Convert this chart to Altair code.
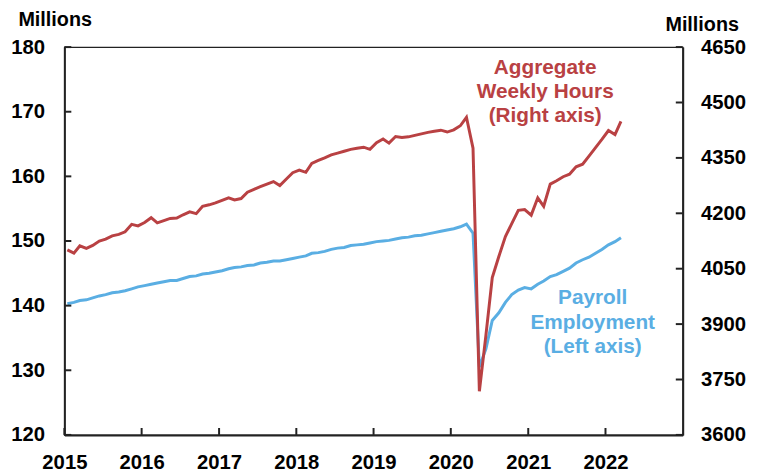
import altair as alt
import pandas as pd

# Monthly observations, Dec 2014 .. Feb 2022 (plotted mid-month)
start_month = "2014-12-15"
payroll = [140.3,
    140.5, 140.8, 140.9, 141.2, 141.5, 141.7, 142.0, 142.1, 142.3, 142.6, 142.9, 143.1,
    143.3, 143.5, 143.7, 143.9, 143.9, 144.2, 144.5, 144.6, 144.9, 145.0, 145.2, 145.4,
    145.7, 145.9, 146.0, 146.2, 146.3, 146.6, 146.7, 146.9, 146.9, 147.1, 147.3, 147.5,
    147.7, 148.1, 148.2, 148.4, 148.7, 148.9, 149.0, 149.3, 149.4, 149.5, 149.7, 149.9,
    150.0, 150.1, 150.3, 150.5, 150.6, 150.8, 150.9, 151.1, 151.3, 151.5, 151.7, 151.9,
    152.2, 152.6, 151.2, 130.5, 133.3, 137.7, 138.9, 140.5, 141.7, 142.4, 142.8, 142.6,
    143.3, 143.8, 144.5, 144.8, 145.3, 145.8, 146.6, 147.1, 147.5, 148.1, 148.7, 149.4,
    149.9, 150.5]
hours = [4101,
    4092, 4112, 4105, 4113, 4125, 4130, 4139, 4143, 4150, 4170, 4166, 4175,
    4188, 4174, 4180, 4186, 4187, 4196, 4204, 4199, 4219, 4223, 4228, 4235,
    4242, 4236, 4240, 4257, 4265, 4272, 4279, 4286, 4275, 4293, 4310, 4317,
    4311, 4335, 4343, 4350, 4358, 4363, 4368, 4373, 4376, 4379, 4373, 4391,
    4401, 4390, 4408, 4405, 4407, 4411, 4415, 4419, 4422, 4425, 4420, 4426,
    4437, 4460, 4376, 3718, 3870, 4026, 4083, 4137, 4172, 4208, 4210, 4195,
    4242, 4219, 4279, 4288, 4299, 4306, 4326, 4333, 4355, 4378, 4400, 4424,
    4413, 4449]

years = [2015, 2016, 2017, 2018, 2019, 2020, 2021, 2022]
left_ticks = [120, 130, 140, 150, 160, 170, 180]
right_ticks = [3600, 3750, 3900, 4050, 4200, 4350, 4500, 4650]

RED = "#b94143"
BLUE = "#5aaee3"
FONT = "Liberation Sans"
W, H = 625, 392
LFS = 20.5

dates = pd.date_range(start_month, periods=len(payroll), freq="MS") + pd.Timedelta(days=14)
df = pd.DataFrame({"date": dates.strftime("%Y-%m-%dT00:00:00"), "payroll": payroll, "hours": hours})

xscale = alt.Scale(domain=[alt.DateTime(year=2015, month=1, date=1), alt.DateTime(year=2023, month=1, date=1)])
lscale = alt.Scale(domain=[120, 180], nice=False, zero=False)
rscale = alt.Scale(domain=[3600, 4650], nice=False, zero=False)

xaxis = alt.Axis(values=[alt.DateTime(year=y, month=1, date=1) for y in years], format="%Y",
                 ticks=False, grid=False, labelPadding=18, domainWidth=2, domainColor="#222",
                 labelFontSize=LFS, labelFont=FONT, labelFontWeight="bold", labelColor="black",
                 labelFlush=False, title=None)

base = alt.Chart(df)

blue = base.mark_line(color=BLUE, strokeWidth=3, clip=True).encode(
    x=alt.X("date:T", scale=xscale, axis=xaxis),
    y=alt.Y("payroll:Q", scale=lscale, axis=alt.Axis(
        orient="left", values=left_ticks, format="d", ticks=False, grid=False, labelPadding=20,
        domainWidth=2, domainColor="#222", labelFontSize=LFS, labelFont=FONT,
        labelFontWeight="bold", labelColor="black", title="Millions", titleAngle=0,
        titleAlign="left", titleBaseline="alphabetic", titleX=-47, titleY=-22,
        titleFontSize=20, titleFont=FONT, titleFontWeight="bold", titleColor="black")),
)

red = base.mark_line(color=RED, strokeWidth=3, clip=True).encode(
    x=alt.X("date:T", scale=xscale),
    y=alt.Y("hours:Q", scale=rscale, axis=alt.Axis(
        orient="right", values=right_ticks, format="d", ticks=False, grid=False, labelPadding=18,
        domainWidth=2, domainColor="#222", labelFontSize=LFS, labelFont=FONT,
        labelFontWeight="bold", labelColor="black", title="Millions", titleAngle=0,
        titleAlign="left", titleBaseline="alphabetic", titleX=-18, titleY=-17,
        titleFontSize=20, titleFont=FONT, titleFontWeight="bold", titleColor="black")),
)

tick_style = dict(color="#222", strokeWidth=2)

xticks = alt.Chart(pd.DataFrame({"yr": [f"{y}-01-01T00:00:00" for y in years]})).mark_rule(**tick_style).encode(
    x=alt.X("yr:T", scale=xscale), y=alt.value(H), y2=alt.value(H - 7))

lticks = alt.Chart(pd.DataFrame({"v": left_ticks})).mark_rule(**tick_style).encode(
    y=alt.Y("v:Q", scale=lscale, axis=None), x=alt.value(0), x2=alt.value(7))

rticks = alt.Chart(pd.DataFrame({"v": right_ticks})).mark_rule(**tick_style).encode(
    y=alt.Y("v:Q", scale=rscale, axis=None), x=alt.value(W), x2=alt.value(W - 7))

red_label = alt.Chart(pd.DataFrame({"t": [["Aggregate", "Weekly Hours", "(Right axis)"]]})).mark_text(
    color=RED, fontSize=21, font=FONT, fontWeight="bold", align="center", baseline="alphabetic",
    lineHeight=24.5).encode(text="t", x=alt.value(551 - 65), y=alt.value(72 - 45))

blue_label = alt.Chart(pd.DataFrame({"t": [["Payroll", "Employment", "(Left axis)"]]})).mark_text(
    color=BLUE, fontSize=21, font=FONT, fontWeight="bold", align="center", baseline="alphabetic",
    lineHeight=24.5).encode(text="t", x=alt.value(599 - 65), y=alt.value(305 - 45))

chart = alt.layer(blue, red, xticks, lticks, rticks, red_label, blue_label).resolve_scale(
    y="independent"
).properties(
    width=W, height=H,
    autosize=alt.AutoSizeParams(type="none"),
    padding={"left": 57, "top": 37, "right": 68, "bottom": 37},
).configure_view(stroke="#222", strokeWidth=1.3)

chart.save("out.html", embed_options={"renderer": "svg", "actions": False})
